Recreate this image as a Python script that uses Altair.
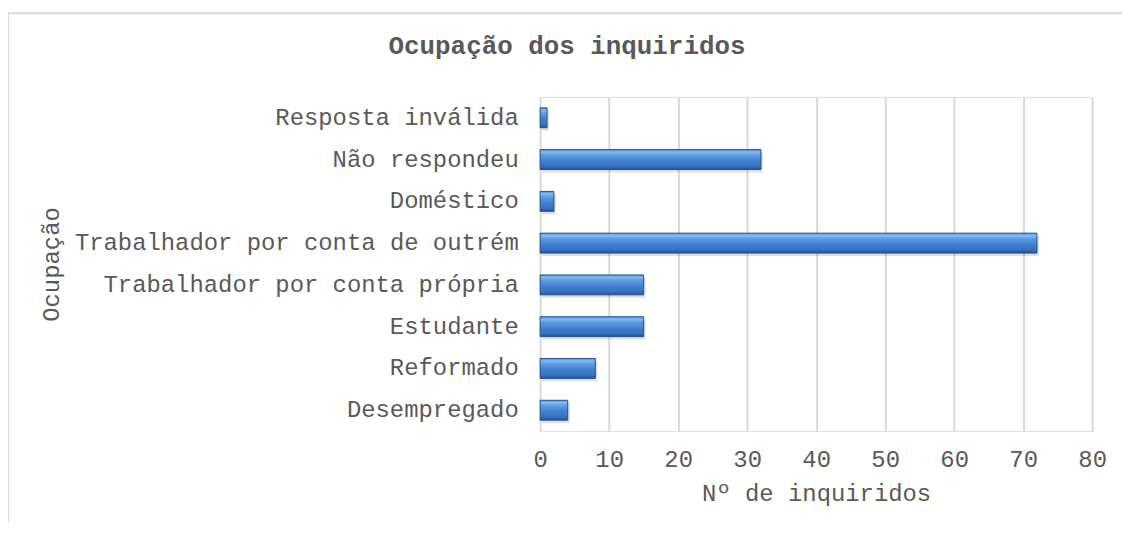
import altair as alt
import pandas as pd

categories = [
    "Resposta inválida",
    "Não respondeu",
    "Doméstico",
    "Trabalhador por conta de outrém",
    "Trabalhador por conta própria",
    "Estudante",
    "Reformado",
    "Desempregado",
]
values = [1, 32, 2, 72, 15, 15, 8, 4]
x_ticks = [0, 10, 20, 30, 40, 50, 60, 70, 80]
chart_title = "Ocupação dos inquiridos"

df = pd.DataFrame({"cat": categories, "n": values})

FONT = "Liberation Mono"
TXT = "#595959"
W, H = 555, 336

grad = alt.Gradient(
    gradient="linear",
    x1=0, x2=0, y1=0, y2=1,
    stops=[
        alt.GradientStop(offset=0.0, color="#4f92de"),
        alt.GradientStop(offset=0.12, color="#80bcf5"),
        alt.GradientStop(offset=0.28, color="#5d9be2"),
        alt.GradientStop(offset=0.55, color="#4382d0"),
        alt.GradientStop(offset=0.85, color="#3571c0"),
        alt.GradientStop(offset=1.0, color="#234f8e"),
    ],
)

frame = alt.Chart(pd.DataFrame({"a": [0]})).mark_rect(
    fill=None, fillOpacity=0, stroke="#d9d9d9", strokeWidth=2
).encode(
    x=alt.value(-535), x2=alt.value(700),
    y=alt.value(-84), y2=alt.value(600),
)

title_mark = alt.Chart(pd.DataFrame({"t": [chart_title]})).mark_text(
    font=FONT, fontSize=26, fontWeight="bold", color=TXT,
    align="center", baseline="middle",
).encode(text="t:N", x=alt.value(27), y=alt.value(-51))

y_enc = alt.Y(
    "cat:N", sort=categories, title="Ocupação",
    scale=alt.Scale(paddingInner=0.52, paddingOuter=0.26),
    axis=alt.Axis(
        domain=False, ticks=False, labelPadding=22, labelFontSize=24,
        labelColor=TXT, labelFont=FONT, labelLimit=600,
        titleFont=FONT, titleFontSize=24, titleFontWeight="normal", titleColor=TXT,
        titleX=-491, titleY=H / 2, titleAngle=-90, titleAlign="center",
        titleBaseline="middle", grid=False,
    ),
)
x_enc = alt.X(
    "n:Q", title="Nº de inquiridos",
    scale=alt.Scale(domain=[0, 80], nice=False),
    axis=alt.Axis(
        values=x_ticks, domain=False, ticks=False, labelPadding=17,
        labelFlush=False,
        labelFontSize=24, labelColor=TXT, labelFont=FONT,
        grid=True, gridColor="#d9d9d9", gridWidth=2,
        titleFont=FONT, titleFontSize=24, titleFontWeight="normal", titleColor=TXT,
        titleX=W / 2, titleY=63, titleBaseline="middle",
    ),
)

shadow = alt.Chart(df).mark_bar(size=20, color="#000000", opacity=0.12, yOffset=3, xOffset=2).encode(
    x=x_enc, y=y_enc
)
bars = alt.Chart(df).mark_bar(
    size=20, fill=grad, stroke="#24508c", strokeWidth=1
).encode(x=x_enc, y=y_enc)

chart = alt.layer(frame, title_mark, shadow, bars).properties(
    width=W, height=H,
    autosize=alt.AutoSizeParams(type="none"),
    padding={"left": 535, "top": 88, "right": 30, "bottom": 90},
).configure_view(stroke=None).configure(background="white")

chart.save("out.html", embed_options={"renderer": "svg", "actions": False})
